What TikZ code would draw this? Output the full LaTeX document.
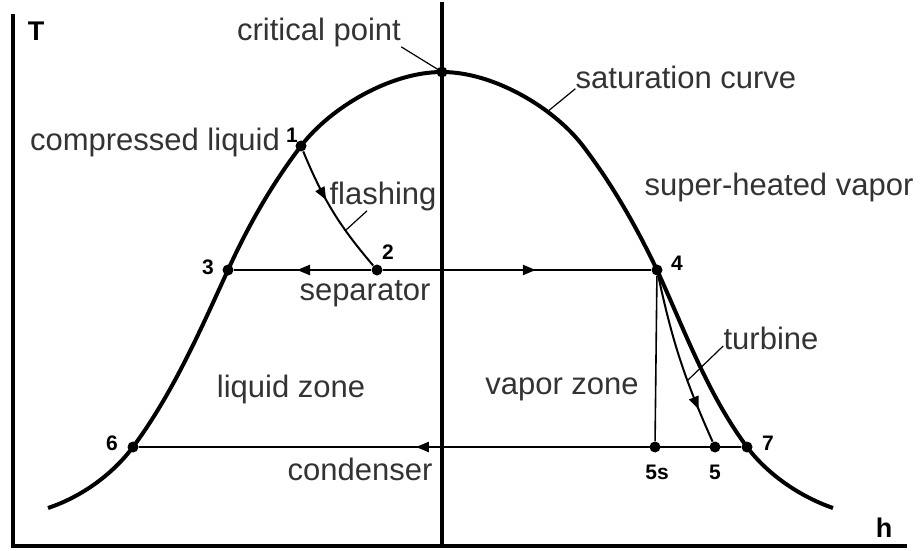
\documentclass[tikz,border=0pt]{standalone}
\usepackage{fontspec}
\setmainfont{Liberation Sans}
\usetikzlibrary{arrows.meta, decorations.markings}
\definecolor{txtgray}{HTML}{333333}

\begin{document}
\begin{tikzpicture}[
    x=0.5pt, y=-0.5pt,
    lbl/.style={text=txtgray, font=\fontsize{15.5}{18}\selectfont, inner sep=0pt},
    num/.style={font=\fontsize{10.5}{12}\bfseries\selectfont, inner sep=0pt},
    axlbl/.style={font=\fontsize{13.5}{15}\bfseries\selectfont, inner sep=0pt},
    dot/.style={circle, fill, inner sep=0pt, minimum size=5.5pt},
    thickline/.style={line width=2pt},
    proc/.style={line width=1.2pt},
    leader/.style={line width=0.6pt},
    midarr/.style={postaction={decorate}, decoration={markings,
        mark=at position #1 with {\arrow{Triangle[length=6.5pt, width=5pt]}}}},
  ]
    \useasboundingbox (0,0) rectangle (922,551);

    % state points
    \node[dot] (cp)  at (442,72)  {};
    \node[dot] (p1)  at (301,146) {};
    \node[dot] (p2)  at (377,270) {};
    \node[dot] (p3)  at (228,270) {};
    \node[dot] (p4)  at (657,270) {};
    \node[dot] (p5s) at (655,447) {};
    \node[dot] (p5)  at (715,447) {};
    \node[dot] (p6)  at (133,447) {};
    \node[dot] (p7)  at (747,447) {};
    \coordinate (lend) at (48,508);
    \coordinate (rmid) at (583,146);
    \coordinate (rend) at (833,508);

    % axes and center line
    \draw[thickline] (13,14) -- (13,546) -- (907,546);
    \draw[thickline] (442,2) -- (442,546);
    \node[axlbl] (tlbl) at (36,31)  {T};
    \node[axlbl] (hlbl) at (884,528) {h};

    % saturation curve
    \draw[thickline] (lend)
        .. controls (81,497) and (112,475) .. (p6.center)
        .. controls (173,393) and (200,331) .. (p3.center)
        .. controls (248,226) and (272,184) .. (p1.center)
        .. controls (330,108) and (390,72) .. (cp.center)
        .. controls (494,72) and (554,108) .. (rmid)
        .. controls (612,184) and (636,226) .. (p4.center)
        .. controls (685,331) and (707,393) .. (p7.center)
        .. controls (768,475) and (801,497) .. (rend);

    % processes
    \draw[line width=1pt, midarr=0.4] (p1) to[bend right=9] (p2);
    \draw[proc, midarr=0.54] (p2) -- (p3);
    \draw[proc, midarr=0.57] (p2) -- (p4);
    \draw[line width=0.8pt] (p4) -- (p5s);
    \draw[line width=1pt, midarr=0.8] (p4) to[bend right=6] (p5);
    \draw[proc, midarr=0.54] (p7) -- (p6);

    % point numbers
    \node[num] (n1)  at (292,135) {1};
    \node[num] (n2)  at (388,252) {2};
    \node[num] (n3)  at (208,267) {3};
    \node[num] (n4)  at (677,263) {4};
    \node[num] (n5s) at (657,472) {5s};
    \node[num] (n5)  at (715,472) {5};
    \node[num] (n6)  at (112,443) {6};
    \node[num] (n7)  at (768,443) {7};

    % labels
    \node[lbl] (cpl)  at (319,32)  {critical point};
    \node[lbl] (satl) at (686,77)  {saturation curve};
    \node[lbl] (cll)  at (155,142) {compressed liquid};
    \node[lbl] (fll)  at (383,196) {flashing};
    \node[lbl] (shl)  at (779,187) {super-heated vapor};
    \node[lbl] (sepl) at (365,294) {separator};
    \node[lbl] (lzl)  at (291,389) {liquid zone};
    \node[lbl] (vzl)  at (562,389) {vapor zone};
    \node[lbl] (tbl)  at (771,338) {turbine};
    \node[lbl] (cdl)  at (360,469) {condenser};

    % leader lines
    \coordinate (sat) at (547,112);
    \coordinate (flpt) at (346,230);
    \coordinate (tbpt) at (688,380);
    \draw[leader] (cpl.south east) -- (cp.center);
    \draw[leader] (satl.south west) -- (sat);
    \draw[leader] ([xshift=-8pt]fll.south) -- (flpt);
    \draw[leader] ([yshift=-4pt]tbl.west) -- (tbpt);
\end{tikzpicture}
\end{document}
